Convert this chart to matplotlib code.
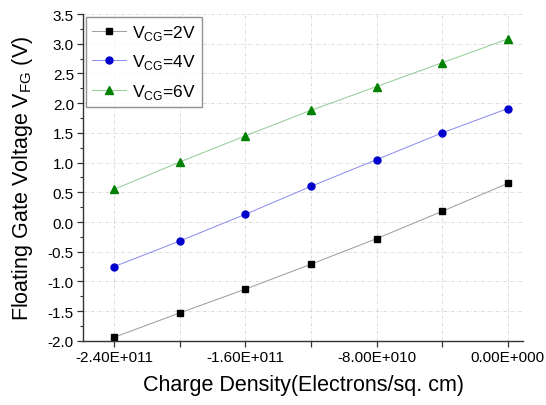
import numpy as np
import matplotlib
matplotlib.use('Agg')
import matplotlib.pyplot as plt
from matplotlib.ticker import FuncFormatter, MultipleLocator

plt.rcParams['font.family'] = ['Liberation Sans', 'DejaVu Sans']

# data
charge = [-2.4e11, -2.0e11, -1.6e11, -1.2e11, -8.0e10, -4.0e10, 0.0]
v_cg2 = [-1.94, -1.53, -1.13, -0.71, -0.28, 0.18, 0.65]
v_cg4 = [-0.75, -0.32, 0.13, 0.60, 1.05, 1.50, 1.91]
v_cg6 = [0.55, 1.01, 1.45, 1.88, 2.28, 2.68, 3.08]
labels = ['V$_{\\mathregular{CG}}$=2V', 'V$_{\\mathregular{CG}}$=4V', 'V$_{\\mathregular{CG}}$=6V']
xtick_vals = [-2.4e11, -2.0e11, -1.6e11, -1.2e11, -8.0e10, -4.0e10, 0.0]
xtick_labels = ['-2.40E+011', '', '-1.60E+011', '', '-8.00E+010', '', '0.00E+000']

fig = plt.figure(figsize=(5.46, 4.06), dpi=100)
ax = fig.add_axes([0.152, 0.158, 0.806, 0.805])

ax.plot(charge, v_cg2, '-', color='#a0a0a0', lw=0.75, marker='s', ms=4.3,
        mfc='black', mec='black', label=labels[0])
ax.plot(charge, v_cg4, '-', color='#9090f0', lw=0.75, marker='o', ms=5,
        mfc='#0000cc', mec='#0000cc', label=labels[1])
ax.plot(charge, v_cg6, '-', color='#98cc98', lw=0.75, marker='^', ms=5.5,
        mfc='#008000', mec='#008000', label=labels[2])

ax.set_xlim(-2.59e11, 0.93e10)
ax.set_ylim(-2.0, 3.5)
ax.set_xticks(xtick_vals)
ax.set_xticklabels(xtick_labels)
ax.yaxis.set_major_locator(MultipleLocator(0.5))
ax.yaxis.set_minor_locator(MultipleLocator(0.25))
ax.yaxis.set_major_formatter(FuncFormatter(lambda v, p: '%.1f' % v))

ax.spines['top'].set_visible(False)
ax.spines['right'].set_visible(False)
for s in ['left', 'bottom']:
    ax.spines[s].set_linewidth(1.0)
    ax.spines[s].set_color('#333333')

ax.tick_params(axis='both', which='major', direction='out', length=4,
               width=0.9, labelsize=11, color='#333333', pad=2.5)
ax.tick_params(axis='y', which='minor', direction='out', length=2.5, width=0.8,
               color='#333333')

ax.grid(True, which='major', color='#d5d5d5', lw=0.6, linestyle=(0, (4, 2, 1, 2)))

ax.set_xlabel('Charge Density(Electrons/sq. cm)', fontsize=15.5, labelpad=7)
ax.set_ylabel('Floating Gate Voltage V$_{\\mathregular{FG}}$ (V)', fontsize=15.5, labelpad=9)

leg = ax.legend(loc='upper left', fontsize=12.5, frameon=True, fancybox=False,
                borderaxespad=0.15, handlelength=2.0, handletextpad=0.35,
                labelspacing=0.62, borderpad=0.35)
leg.get_frame().set_edgecolor('#777777')
leg.get_frame().set_linewidth(1.0)

fig.savefig('out.png', dpi=100)
